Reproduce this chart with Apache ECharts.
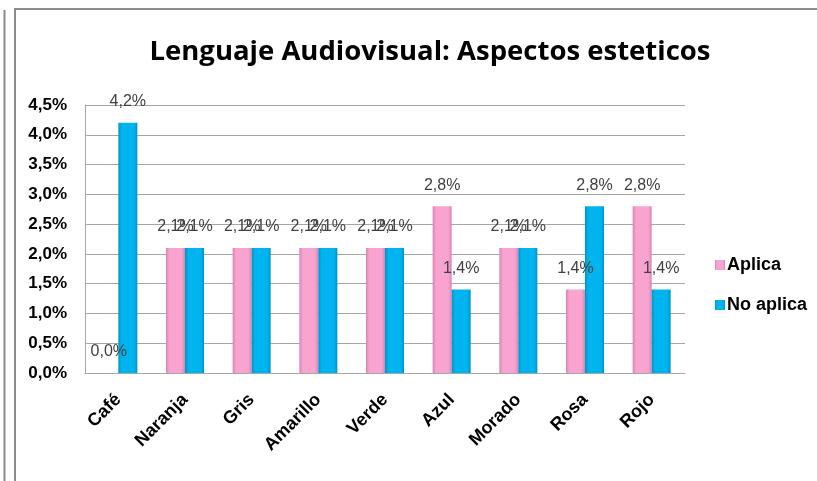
<!DOCTYPE html>
<html>
<head>
<meta charset="utf-8">
<script src="https://cdn.jsdelivr.net/npm/echarts@6/dist/echarts.min.js"></script>
<style>
html,body{margin:0;padding:0;background:#fff;}
#chart{width:817px;height:481px;}
</style>
</head>
<body>
<div id="chart"></div>
<script>
const categories = ['Café', 'Naranja', 'Gris', 'Amarillo', 'Verde', 'Azul', 'Morado', 'Rosa', 'Rojo'];
const aplica = [0.0, 2.1, 2.1, 2.1, 2.1, 2.8, 2.1, 1.4, 2.8];
const noAplica = [4.2, 2.1, 2.1, 2.1, 2.1, 1.4, 2.1, 2.8, 1.4];

const sans = '"Liberation Sans", Arial, sans-serif';
const fmt = v => v.toFixed(1).replace('.', ',') + '%';

const chart = echarts.init(document.getElementById('chart'), null, { renderer: 'canvas' });

function barSeries(name, data, base, edge) {
  return {
    name: name,
    type: 'bar',
    data: data,
    barWidth: 19,
    barGap: '0%',
    itemStyle: {
      color: new echarts.graphic.LinearGradient(0, 0, 1, 0, [
        { offset: 0, color: edge },
        { offset: 0.18, color: base },
        { offset: 0.82, color: base },
        { offset: 1, color: edge }
      ])
    },
    label: {
      show: true,
      position: 'top',
      distance: 13,
      formatter: p => fmt(p.value),
      fontFamily: sans,
      fontSize: 16,
      color: '#404040'
    }
  };
}

chart.setOption({
  animation: false,
  title: {
    text: 'Lenguaje Audiovisual: Aspectos esteticos',
    left: 425,
    textAlign: 'center',
    top: 33,
    textStyle: { fontFamily: '"Open Sans", sans-serif', fontWeight: 'bold', fontSize: 27.5, color: '#000' }
  },
  legend: {
    orient: 'vertical',
    left: 710,
    top: 251,
    itemWidth: 10,
    itemHeight: 10,
    itemGap: 22,
    icon: 'rect',
    textStyle: { fontFamily: sans, fontWeight: 'bold', fontSize: 18, color: '#000', padding: [0, 0, 0, -3] },
    data: ['Aplica', 'No aplica']
  },
  grid: { left: 85, right: 132, top: 105, bottom: 108 },
  xAxis: {
    type: 'category',
    data: categories,
    axisLine: { lineStyle: { color: '#a6a6a6' } },
    axisTick: { show: false },
    axisLabel: {
      interval: 0,
      rotate: 45,
      margin: 24,
      fontFamily: sans,
      fontWeight: 'bold',
      fontSize: 18,
      color: '#000'
    }
  },
  yAxis: {
    type: 'value',
    min: 0,
    max: 4.5,
    interval: 0.5,
    axisLine: { show: true, lineStyle: { color: '#a6a6a6' } },
    axisTick: { show: false },
    splitLine: { lineStyle: { color: '#a6a6a6' } },
    axisLabel: {
      margin: 18,
      formatter: v => fmt(v),
      fontFamily: sans,
      fontWeight: 'bold',
      fontSize: 17,
      color: '#000'
    }
  },
  series: [
    barSeries('Aplica', aplica, '#f9a3d0', '#d885b2'),
    barSeries('No aplica', noAplica, '#00b5ef', '#0094c6')
  ],
  graphic: [
    { type: 'line', shape: { x1: 4.5, y1: 10, x2: 4.5, y2: 481 }, style: { stroke: '#8c8c8c', lineWidth: 2 } },
    { type: 'polyline', shape: { points: [[15, 481], [15, 9], [817, 9]] }, style: { stroke: '#8c8c8c', lineWidth: 2, fill: null } }
  ]
});
</script>
</body>
</html>
